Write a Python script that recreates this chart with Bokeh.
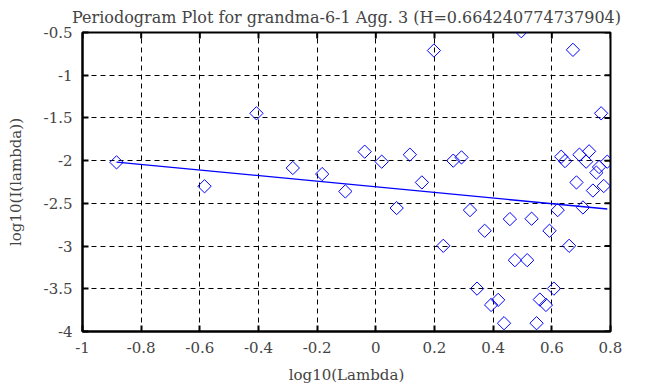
import math
from bokeh.plotting import figure
from bokeh.models import FixedTicker, ColumnDataSource
from bokeh.embed import file_html
from bokeh.resources import INLINE

# ---- data ----
log_lambda = [-0.884, -0.584, -0.407, -0.283, -0.183, -0.104, -0.038, 0.020, 0.071,
              0.116, 0.157, 0.198, 0.230, 0.264, 0.292, 0.321, 0.345, 0.371, 0.393,
              0.417, 0.437, 0.457, 0.474, 0.496, 0.516, 0.531, 0.548, 0.559, 0.580,
              0.592, 0.607, 0.620, 0.632, 0.645, 0.659, 0.672, 0.684, 0.694, 0.706,
              0.717, 0.727, 0.740, 0.752, 0.761, 0.768, 0.777, 0.789]
log_I = [-2.02, -2.30, -1.446, -2.086, -2.157, -2.36, -1.895, -2.012, -2.555,
         -1.93, -2.255, -0.711, -2.997, -2.00, -1.962, -2.579, -3.498, -2.821, -3.689,
         -3.63, -3.903, -2.684, -3.165, -0.485, -3.165, -2.68, -3.903, -3.626, -3.689,
         -2.821, -3.498, -2.579, -1.954, -2.005, -2.997, -0.703, -2.255, -1.93, -2.548,
         -2.012, -1.891, -2.35, -2.14, -2.075, -1.446, -2.297, -2.012]

H = 0.664240774737904
fit_intercept = -2.307
fit_slope = 1 - 2 * H

x_ticks = [-1, -0.8, -0.6, -0.4, -0.2, 0, 0.2, 0.4, 0.6, 0.8]
x_tick_labels = ["-1", "-0.8", "-0.6", "-0.4", "-0.2", "0", "0.2", "0.4", "0.6", "0.8"]
y_ticks = [-4, -3.5, -3, -2.5, -2, -1.5, -1, -0.5]
y_tick_labels = ["-4", "-3.5", "-3", "-2.5", "-2", "-1.5", "-1", "-0.5"]

title_text = "Periodogram Plot for grandma-6-1 Agg. 3 (H=%s)" % repr(H)
x_label = "log10(Lambda)"
y_label = "log10(I(lambda))"

FONT = "DejaVu Serif"
FS = "15px"

p = figure(width=650, height=387, output_backend="svg", toolbar_location=None,
           x_range=(x_ticks[0], x_ticks[-1]), y_range=(y_ticks[0], y_ticks[-1]),
           min_border_left=82, min_border_top=32, min_border_right=40,
           min_border_bottom=56, title=title_text)
p.title.text_font = FONT
p.title.text_font_size = "16px"
p.title.text_font_style = "normal"
p.title.text_line_height = 1.0
p.title.align = "center"
p.title.vertical_align = "top"
p.title.offset = 0
p.title.standoff = 8

p.outline_line_color = "black"
p.outline_line_width = 2
p.background_fill_color = "white"
p.border_fill_color = "white"

xt = FixedTicker(ticks=x_ticks)
yt = FixedTicker(ticks=y_ticks)

for ax in (p.xaxis[0], p.yaxis[0]):
    ax.major_label_text_font = FONT
    ax.major_label_text_font_size = FS
    ax.axis_label_text_font = FONT
    ax.axis_label_text_font_size = FS
    ax.axis_label_text_font_style = "normal"
    ax.axis_label_text_line_height = 1.0
    ax.major_tick_in = 6
    ax.major_tick_out = 0
    ax.major_tick_line_width = 2
    ax.minor_tick_line_color = None
    ax.axis_line_width = 2

p.xaxis[0].ticker = xt
p.yaxis[0].ticker = yt
p.xaxis[0].major_label_overrides = dict(zip(x_ticks, x_tick_labels))
p.yaxis[0].major_label_overrides = dict(zip(y_ticks, y_tick_labels))
p.xaxis[0].axis_label = x_label
p.yaxis[0].axis_label = y_label
p.xaxis[0].major_label_standoff = 10
p.yaxis[0].major_label_standoff = 10
p.xaxis[0].axis_label_standoff = 10
p.yaxis[0].axis_label_standoff = 16

for g, tk in ((p.xgrid[0], xt), (p.ygrid[0], yt)):
    g.ticker = tk
    g.grid_line_color = "black"
    g.grid_line_dash = "5 4"
    g.grid_line_width = 1

# inward tick marks on the right and top edges
p.scatter([x_ticks[-1]] * len(y_ticks), y_ticks, marker="dash", size=12,
          line_color="black", line_width=2)
p.scatter(x_ticks, [y_ticks[-1]] * len(x_ticks), marker="dash", size=12,
          angle=math.pi / 2, line_color="black", line_width=2)

src = ColumnDataSource(data=dict(x=log_lambda, y=log_I))
p.scatter("x", "y", source=src, marker="square", size=9.4, angle=math.pi / 4,
          fill_color=None, line_color="#0000ff", line_width=1)

x_fit = [min(log_lambda), max(log_lambda)]
y_fit = [fit_intercept + fit_slope * v for v in x_fit]
p.line(x_fit, y_fit, line_color="#0000ff", line_width=1.3)

open("out.html", "w").write(file_html(p, INLINE))
